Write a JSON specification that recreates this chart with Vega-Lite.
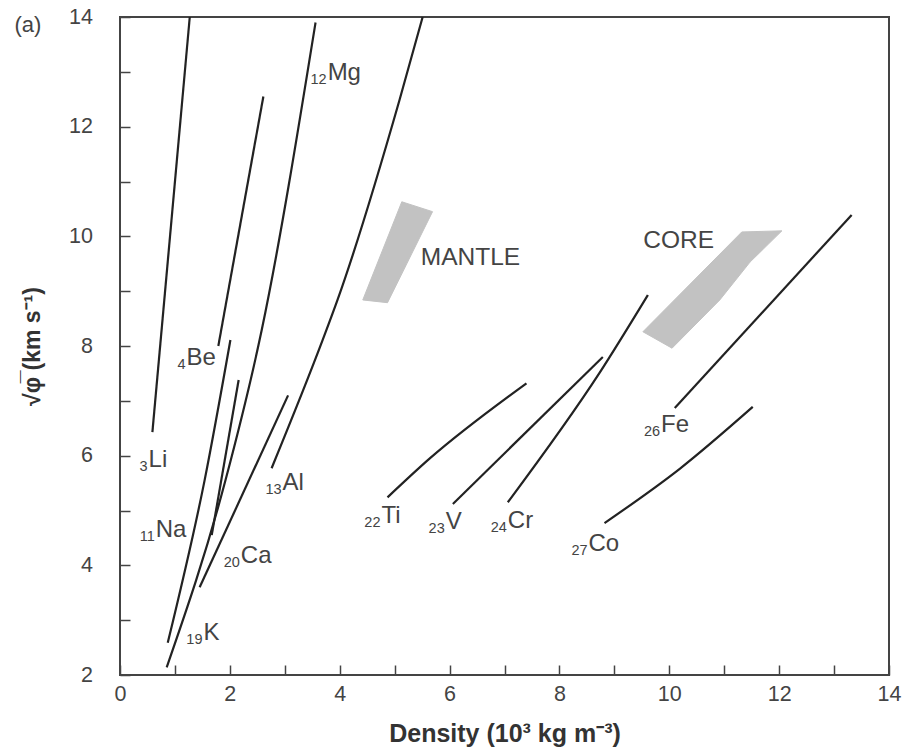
{
  "$schema": "https://vega.github.io/schema/vega-lite/v6.json",
  "width": 769,
  "height": 658,
  "autosize": {"type": "none"},
  "padding": {"left": 120, "top": 17, "right": 16, "bottom": 77},
  "background": "white",
  "config": {
    "view": {"stroke": "#444", "strokeWidth": 2},
    "font": "Liberation Sans",
    "axis": {"grid": false, "domain": false, "tickColor": "#444", "tickWidth": 1.5, "tickSize": -10, "labelFont": "Liberation Sans", "labelFontSize": 21.5, "labelColor": "#444", "labelFlush": false, "labelOverlap": false, "titleFont": "Liberation Sans", "titleColor": "#333", "titleFontWeight": "bold"}
  },
  "datasets": {
    "curves": [
      {"id": "Li", "o": 1, "x": 0.59, "y": 6.43}, {"id": "Li", "o": 2, "x": 1.27, "y": 14.0},
      {"id": "Be", "o": 1, "x": 1.79, "y": 8.0}, {"id": "Be", "o": 2, "x": 2.61, "y": 12.55},
      {"id": "Mg", "o": 1, "x": 0.85, "y": 2.14}, {"id": "Mg", "o": 2, "x": 1.92, "y": 5.55}, {"id": "Mg", "o": 3, "x": 2.58, "y": 8.29}, {"id": "Mg", "o": 4, "x": 3.56, "y": 13.9},
      {"id": "Na", "o": 1, "x": 0.87, "y": 2.59}, {"id": "Na", "o": 2, "x": 1.54, "y": 5.55}, {"id": "Na", "o": 3, "x": 2.01, "y": 8.11},
      {"id": "B", "o": 1, "x": 1.67, "y": 4.55}, {"id": "B", "o": 2, "x": 2.16, "y": 7.38},
      {"id": "Ca", "o": 1, "x": 1.45, "y": 3.6}, {"id": "Ca", "o": 2, "x": 3.06, "y": 7.1},
      {"id": "Al", "o": 1, "x": 2.76, "y": 5.77}, {"id": "Al", "o": 2, "x": 3.69, "y": 8.11}, {"id": "Al", "o": 3, "x": 3.96, "y": 8.84}, {"id": "Al", "o": 4, "x": 5.09, "y": 12.49}, {"id": "Al", "o": 5, "x": 5.51, "y": 14.0},
      {"id": "Ti", "o": 1, "x": 4.87, "y": 5.24}, {"id": "Ti", "o": 2, "x": 5.64, "y": 5.95}, {"id": "Ti", "o": 3, "x": 7.4, "y": 7.32},
      {"id": "V", "o": 1, "x": 6.06, "y": 5.12}, {"id": "V", "o": 2, "x": 8.79, "y": 7.8},
      {"id": "Cr", "o": 1, "x": 7.06, "y": 5.15}, {"id": "Cr", "o": 2, "x": 8.73, "y": 7.51}, {"id": "Cr", "o": 3, "x": 9.61, "y": 8.93},
      {"id": "Fe", "o": 1, "x": 10.1, "y": 6.87}, {"id": "Fe", "o": 2, "x": 13.32, "y": 10.39},
      {"id": "Co", "o": 1, "x": 8.82, "y": 4.77}, {"id": "Co", "o": 2, "x": 10.19, "y": 5.76}, {"id": "Co", "o": 3, "x": 11.52, "y": 6.89}
    ],
    "regions": [
      {"id": "MANTLE", "o": 1, "x": 5.13, "y": 10.63}, {"id": "MANTLE", "o": 2, "x": 5.69, "y": 10.45}, {"id": "MANTLE", "o": 3, "x": 4.87, "y": 8.79}, {"id": "MANTLE", "o": 4, "x": 4.42, "y": 8.84},
      {"id": "CORE", "o": 1, "x": 9.52, "y": 8.26}, {"id": "CORE", "o": 2, "x": 11.32, "y": 10.08}, {"id": "CORE", "o": 3, "x": 12.05, "y": 10.1}, {"id": "CORE", "o": 4, "x": 11.47, "y": 9.53}, {"id": "CORE", "o": 5, "x": 10.92, "y": 8.84}, {"id": "CORE", "o": 6, "x": 10.05, "y": 7.96}
    ],
    "labels": [
      {"num": "3", "sym": "Li", "x": 0.52, "y": 5.79},
      {"num": "4", "sym": "Be", "x": 1.21, "y": 7.65},
      {"num": "12", "sym": "Mg", "x": 3.78, "y": 12.86},
      {"num": "11", "sym": "Na", "x": 0.65, "y": 4.51},
      {"num": "19", "sym": "K", "x": 1.52, "y": 2.63},
      {"num": "20", "sym": "Ca", "x": 2.2, "y": 4.04},
      {"num": "13", "sym": "Al", "x": 2.96, "y": 5.37},
      {"num": "22", "sym": "Ti", "x": 4.76, "y": 4.77},
      {"num": "23", "sym": "V", "x": 5.93, "y": 4.66},
      {"num": "24", "sym": "Cr", "x": 7.06, "y": 4.68},
      {"num": "26", "sym": "Fe", "x": 9.85, "y": 6.43},
      {"num": "27", "sym": "Co", "x": 8.53, "y": 4.26}
    ],
    "regionLabels": [
      {"text": "MANTLE", "x": 6.38, "y": 9.48},
      {"text": "CORE", "x": 10.17, "y": 9.79}
    ],
    "panel": [
      {"text": "(a)", "x": -1.92, "y": 13.72}
    ]
  },
  "encoding": {
    "x": {"field": "x", "type": "quantitative", "scale": {"domain": [0, 14], "nice": false, "zero": false},
      "axis": {"values": [0,1,2,3,4,5,6,7,8,9,10,11,12,13,14], "labelExpr": "datum.value % 2 === 0 ? datum.label : ''", "labelPadding": 18.5, "title": "Density  (10³ kg m⁻³)", "titleFontSize": 25, "titleY": 66.5, "titleBaseline": "alphabetic"}},
    "y": {"field": "y", "type": "quantitative", "scale": {"domain": [2, 14], "nice": false, "zero": false},
      "axis": {"values": [2,3,4,5,6,7,8,9,10,11,12,13,14], "labelExpr": "datum.value % 2 === 0 ? datum.label : ''", "labelPadding": 37.5, "title": "√φ̅ (km s⁻¹)", "titleFontSize": 23, "titleX": -76, "titleY": 329, "titleAngle": 270, "titleBaseline": "bottom"}}
  },
  "layer": [
    {
      "data": {"name": "regions"},
      "mark": {"type": "line", "fill": "#c2c2c2", "stroke": "#c2c2c2", "strokeWidth": 1, "interpolate": "linear-closed"},
      "encoding": {"detail": {"field": "id"}, "order": {"field": "o", "type": "quantitative"}}
    },
    {
      "data": {"name": "curves"},
      "mark": {"type": "line", "stroke": "#222", "strokeWidth": 2.2, "interpolate": "monotone"},
      "encoding": {"detail": {"field": "id"}, "order": {"field": "o", "type": "quantitative"}}
    },
    {
      "data": {"name": "labels"},
      "mark": {"type": "text", "align": "right", "baseline": "alphabetic", "dx": -1, "dy": 4, "fontSize": 14.5, "color": "#444", "font": "Liberation Sans"},
      "encoding": {"text": {"field": "num"}}
    },
    {
      "data": {"name": "labels"},
      "mark": {"type": "text", "align": "left", "baseline": "alphabetic", "dx": 0, "fontSize": 24, "color": "#444", "font": "Liberation Sans"},
      "encoding": {"text": {"field": "sym"}}
    },
    {
      "data": {"name": "regionLabels"},
      "mark": {"type": "text", "align": "center", "baseline": "alphabetic", "fontSize": 24.5, "color": "#444", "font": "Liberation Sans"},
      "encoding": {"text": {"field": "text"}}
    },
    {
      "data": {"name": "panel"},
      "mark": {"type": "text", "align": "left", "baseline": "alphabetic", "fontSize": 22, "color": "#444", "font": "Liberation Sans", "clip": false},
      "encoding": {"text": {"field": "text"}}
    }
  ]
}
